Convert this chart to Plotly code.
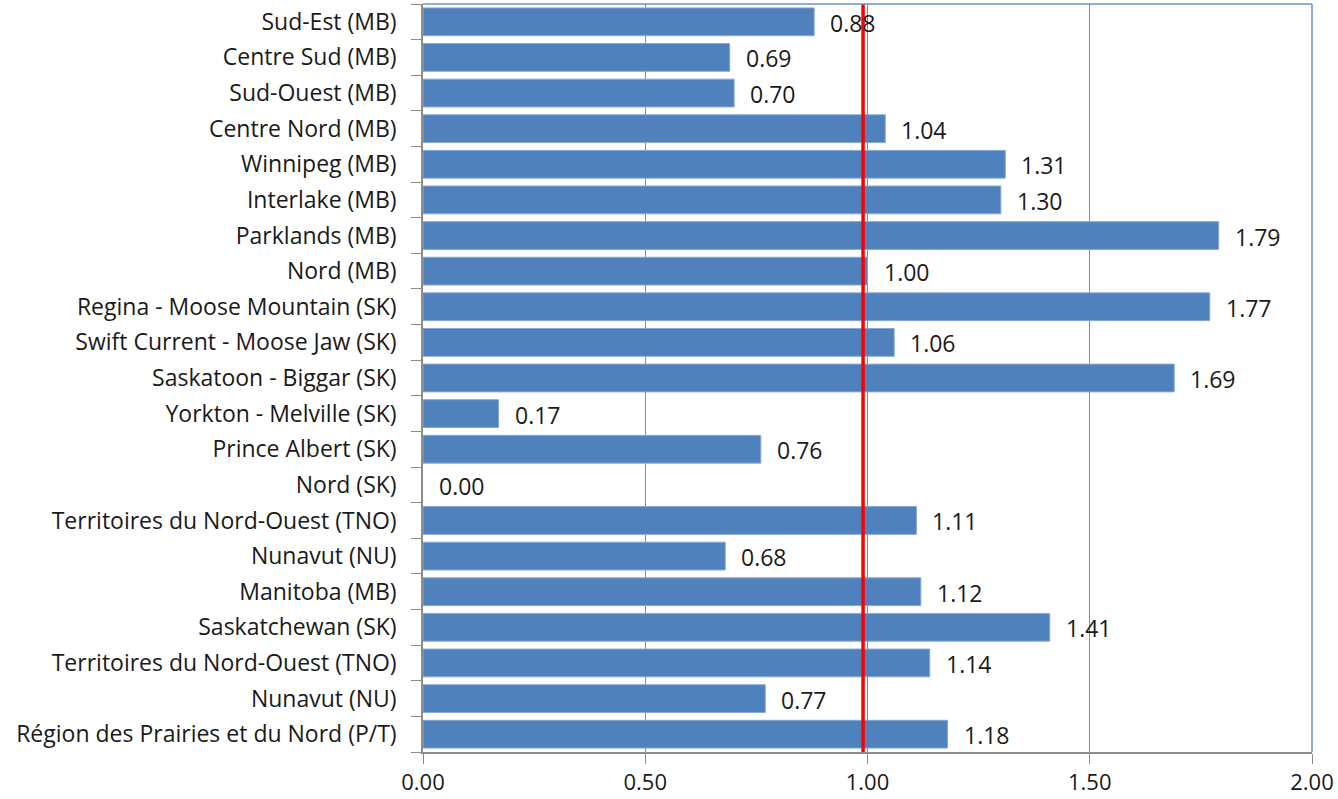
import plotly.graph_objects as go

# regions, top to bottom as shown in the chart
regions = [
    "Sud-Est (MB)",
    "Centre Sud (MB)",
    "Sud-Ouest (MB)",
    "Centre Nord (MB)",
    "Winnipeg (MB)",
    "Interlake (MB)",
    "Parklands (MB)",
    "Nord (MB)",
    "Regina - Moose Mountain (SK)",
    "Swift Current - Moose Jaw (SK)",
    "Saskatoon - Biggar (SK)",
    "Yorkton - Melville (SK)",
    "Prince Albert (SK)",
    "Nord (SK)",
    "Territoires du Nord-Ouest (TNO)",
    "Nunavut (NU)",
    "Manitoba (MB)",
    "Saskatchewan (SK)",
    "Territoires du Nord-Ouest (TNO)",
    "Nunavut (NU)",
    "Région des Prairies et du Nord (P/T)",
]
ratios = [0.88, 0.69, 0.70, 1.04, 1.31, 1.30, 1.79, 1.00, 1.77, 1.06, 1.69,
          0.17, 0.76, 0.00, 1.11, 0.68, 1.12, 1.41, 1.14, 0.77, 1.18]
reference_value = 0.99
x_ticks = [0, 0.5, 1.0, 1.5, 2.0]

FONT = "'Open Sans', sans-serif"
FS = 23
TEXT = "#1a1a1a"
BAR = "#4F81BD"
FRAME = "#6A93C8"

pos = list(range(len(regions)))

fig = go.Figure()
fig.add_trace(
    go.Bar(
        x=ratios,
        y=pos,
        orientation="h",
        marker=dict(
            color=BAR,
            # no outline on empty bars, otherwise a stray sliver shows up
            line=dict(color="#86A8D6", width=[0 if v == 0 else 1 for v in ratios]),
        ),
        hoverinfo="x+text",
        hovertext=regions,
    )
)

# value labels, placed just right of each bar end
for p, v in zip(pos, ratios):
    fig.add_annotation(
        x=v, y=p, text=f"{v:.2f}", showarrow=False,
        xanchor="left", yanchor="middle", xshift=14, yshift=-1,
        font=dict(family=FONT, size=FS, color=TEXT),
    )

# reference line at ~1.0
fig.add_shape(
    type="line", xref="x", yref="paper",
    x0=reference_value, x1=reference_value, y0=0, y1=1,
    line=dict(color="#FF0000", width=3.5),
)
# blue frame on top and right
fig.add_shape(type="line", xref="paper", yref="paper", x0=0, x1=1, y0=1, y1=1,
              line=dict(color=FRAME, width=1.5))
fig.add_shape(type="line", xref="paper", yref="paper", x0=1, x1=1, y0=0, y1=1,
              line=dict(color=FRAME, width=1.5))

fig.update_layout(
    width=1338,
    height=799,
    margin=dict(l=423, r=26, t=4, b=47, autoexpand=False),
    paper_bgcolor="white",
    plot_bgcolor="white",
    font=dict(family=FONT, size=FS, color=TEXT),
    showlegend=False,
    bargap=0.22,
    xaxis=dict(
        range=[0, 2],
        tickvals=x_ticks,
        tickformat=".2f",
        showgrid=True,
        gridcolor="#8C8C8C",
        gridwidth=1,
        zeroline=False,
        showline=True,
        linecolor="#8C8C8C",
        linewidth=1.5,
        ticks="outside",
        ticklen=10,
        tickcolor="#8C8C8C",
        tickfont=dict(size=FS - 1, color=TEXT),
        automargin=False,
    ),
    yaxis=dict(
        range=[len(regions) - 0.5, -0.5],
        tickmode="array",
        tickvals=pos,
        ticktext=regions,
        showgrid=False,
        zeroline=False,
        showline=True,
        linecolor="#8C8C8C",
        linewidth=1.5,
        ticks="outside",
        ticklen=20,
        tickcolor="rgba(0,0,0,0)",
        tickfont=dict(size=FS, color=TEXT),
        automargin=False,
        minor=dict(
            tickmode="linear", tick0=-0.5, dtick=1,
            ticks="outside", ticklen=10, tickcolor="#8C8C8C", showgrid=False,
        ),
    ),
)

# page body has a default 8px margin; drop it so the chart fills the window
fig.write_html(
    "out.html",
    config={"displayModeBar": False},
    post_script="document.body.style.margin='0';",
)
